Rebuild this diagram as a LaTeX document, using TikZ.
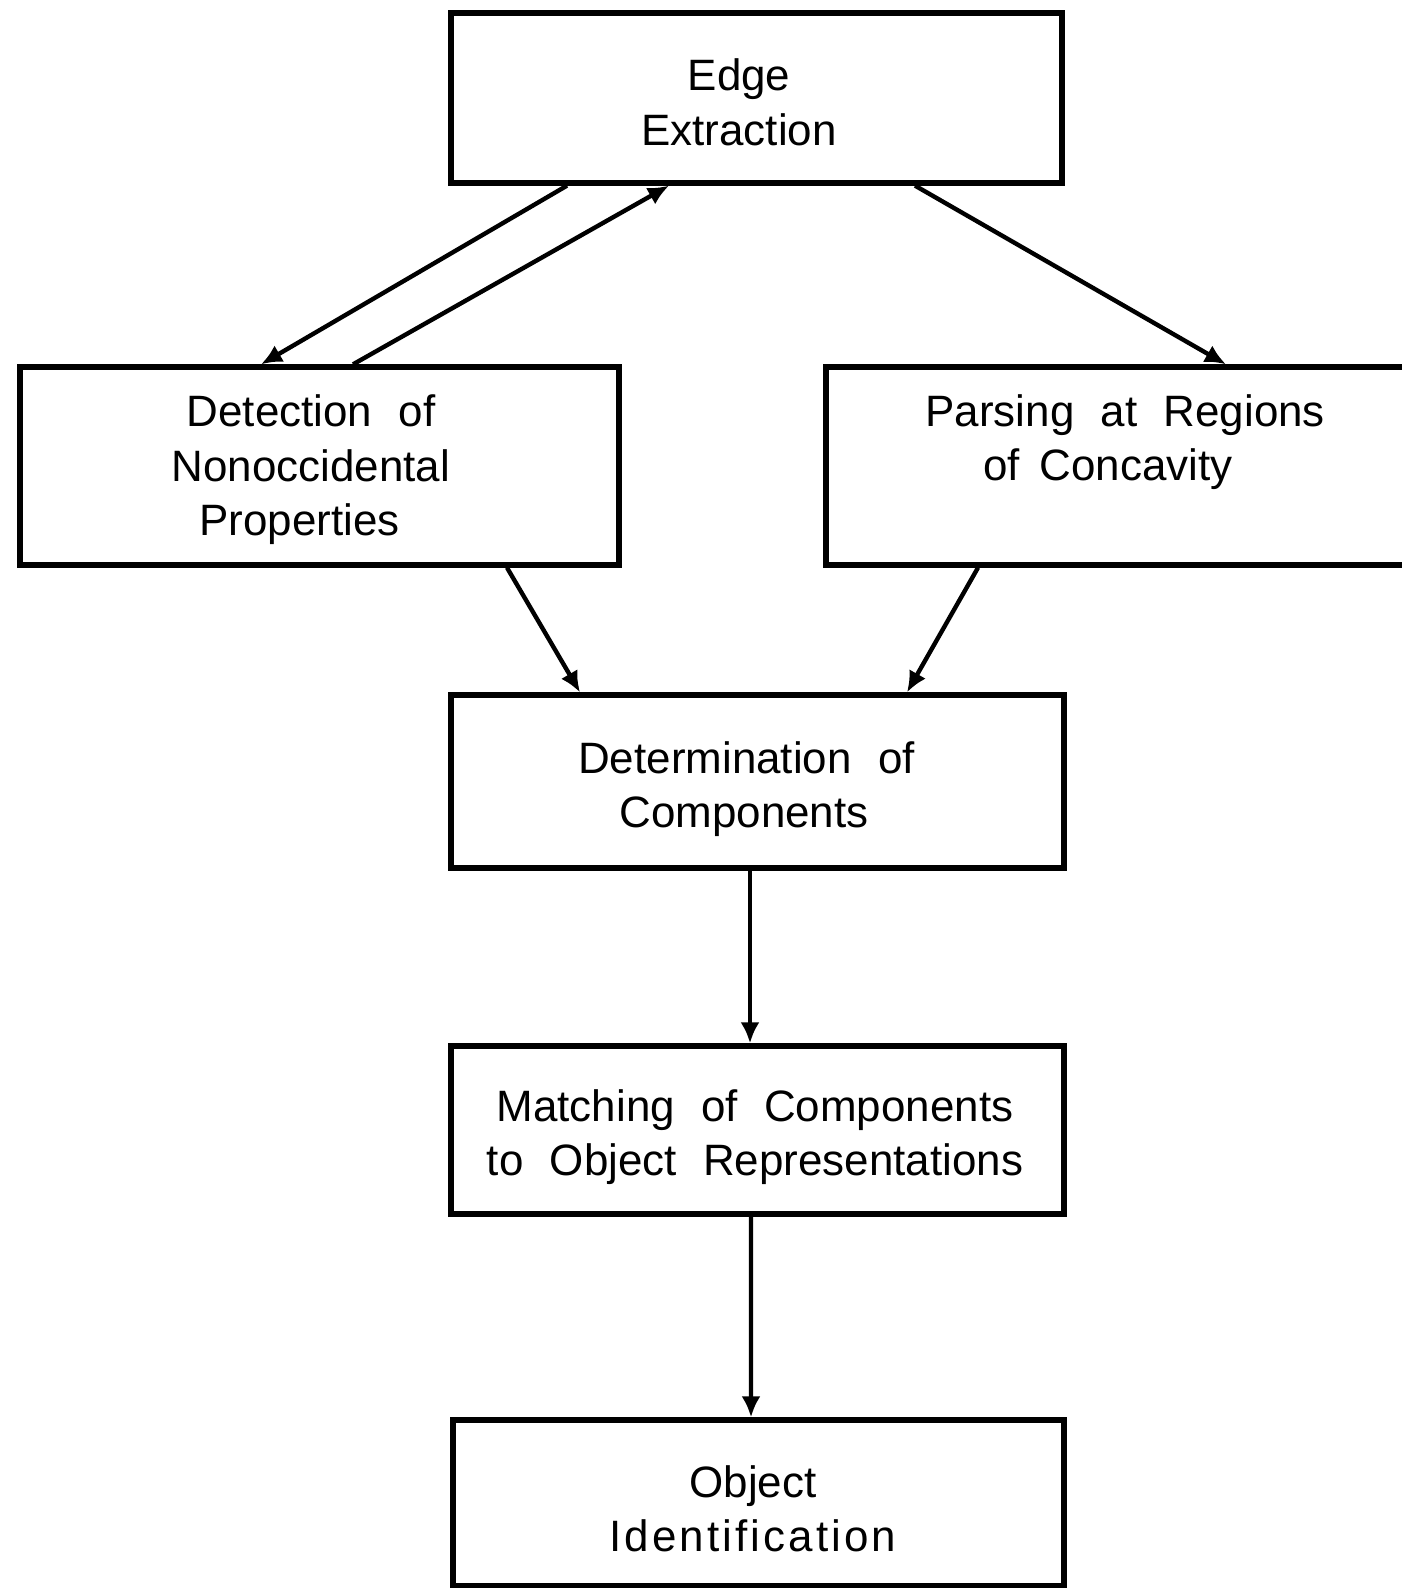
\documentclass[tikz,border=0pt]{standalone}
\usepackage{fontspec}
\setmainfont{Liberation Sans}
\usetikzlibrary{arrows.meta}
% caption type: large sans with wide word gaps
\newcommand\capfont{\fontsize{25}{31}\selectfont\spaceskip=0.6em\relax}
\newcommand\narrowgaps{\spaceskip=0.45em\relax}
\begin{document}
\begin{tikzpicture}[
  stage/.style={draw, line width=3pt, minimum width=#1, inner sep=0pt},
  captext/.style={align=center, inner sep=0pt, font=\capfont},
  flow/.style={line width=2.5pt, -{Latex[length=0.42cm,width=0.38cm]}}
]
\useasboundingbox (0,0) rectangle (28.04,-31.76);
\clip (0,0) rectangle (28.04,-31.76);

% processing stages
\node[stage=12.22cm, minimum height=3.40cm] (edge) at (15.13,-1.96) {};
\node[stage=11.98cm, minimum height=3.96cm] (det)  at (6.39,-9.32) {};
\node[stage=12.08cm, minimum height=3.96cm] (pars) at (22.56,-9.32) {};
\node[stage=12.26cm, minimum height=3.46cm] (detm) at (15.15,-15.63) {};
\node[stage=12.26cm, minimum height=3.36cm] (match) at (15.15,-22.6) {};
\node[stage=12.22cm, minimum height=3.32cm] (obj)  at (15.17,-30.06) {};

% stage captions
\node[captext] (edge-t)  at (14.78,-2.05) {Edge\\Extraction};
\node[captext] (det-t)   at (6.22,-9.40) {Detection of\\Nonoccidental\\Properties\kern0.45cm};
\node[captext] (pars-t)  at (22.28,-8.84) {\kern0.45cm Parsing at Regions\\{\narrowgaps of Concavity}\kern0.25cm};
\node[captext] (detm-t)  at (14.88,-15.78) {\kern0.1cm Determination of\\Components};
\node[captext] (match-t) at (15.10,-22.74) {Matching of Components\\to Object Representations};
\node[captext] (obj-t)   at (15.06,-30.18) {Object\\{\addfontfeature{LetterSpace=7}Identification}};

% connections
\draw[flow] ([xshift=-3.79cm]edge.south) -- ([xshift=-1.17cm]det.north);
\draw[flow] ([xshift=0.67cm]det.north) -- ([xshift=-1.75cm]edge.south);
\draw[flow] ([xshift=3.17cm]edge.south) -- ([xshift=1.96cm]pars.north);
\draw[flow] ([xshift=3.75cm]det.south) -- ([xshift=-3.55cm]detm.north);
\draw[flow] ([xshift=-3.00cm]pars.south) -- ([xshift=2.99cm]detm.north);
\draw[flow] ([xshift=-0.15cm]detm.south) -- ([xshift=-0.15cm]match.north);
\draw[flow] ([xshift=-0.13cm]match.south) -- ([xshift=-0.15cm]obj.north);
\end{tikzpicture}
\end{document}
